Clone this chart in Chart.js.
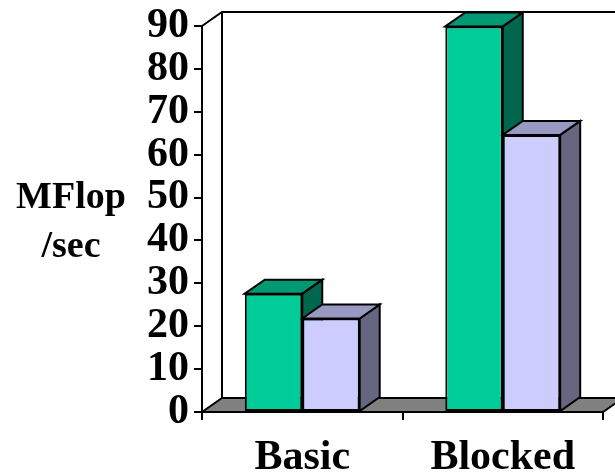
<!DOCTYPE html>
<html>
<head>
<meta charset="utf-8">
<script src="https://cdn.jsdelivr.net/npm/chart.js@4"></script>
<style>
  html, body { margin: 0; padding: 0; background: #fff; }
  #wrap { width: 615px; height: 473px; position: relative; }
</style>
</head>
<body>
<div id="wrap"><canvas id="mflop-chart"></canvas></div>
<script>
// values
const categories = ['Basic', 'Blocked']
const greenValues = [27.6, 89.9]
const lavenderValues = [21.8, 64.6]
const yTickValues = [0, 10, 20, 30, 40, 50, 60, 70, 80, 90]
const yTitleLines = ['MFlop', '/sec']

const FONT = '"Liberation Serif", "Times New Roman", serif'
const DEPTH_X = 20
const DEPTH_Y = -14

// front, top and side shades for each series
const shades = [
  { front: 'rgb(0,204,153)', top: 'rgb(0,153,115)', side: 'rgb(0,102,77)' },
  { front: 'rgb(204,204,255)', top: 'rgb(153,153,196)', side: 'rgb(102,102,128)' }
]

const poly = (ctx, pts, fill) => {
  ctx.beginPath()
  ctx.moveTo(pts[0][0], pts[0][1])
  for (let i = 1; i < pts.length; i++) ctx.lineTo(pts[i][0], pts[i][1])
  ctx.closePath()
  if (fill) {
    ctx.fillStyle = fill
    ctx.fill()
  }
  ctx.stroke()
}

// back wall, floor and the 3d faces of the bars
const box3d = {
  id: 'box3d',
  beforeDatasetsDraw(chart) {
    const { ctx, chartArea: a } = chart
    ctx.save()
    ctx.strokeStyle = '#000'
    ctx.lineWidth = 2
    ctx.lineJoin = 'miter'

    // back wall outline
    ctx.beginPath()
    ctx.moveTo(a.left, a.top)
    ctx.lineTo(a.left + DEPTH_X, a.top + DEPTH_Y)
    ctx.lineTo(chart.width + 5, a.top + DEPTH_Y)
    ctx.moveTo(a.left + DEPTH_X, a.top + DEPTH_Y)
    ctx.lineTo(a.left + DEPTH_X, a.bottom + DEPTH_Y)
    ctx.stroke()

    // floor
    poly(ctx, [
      [a.left, a.bottom],
      [a.left + DEPTH_X, a.bottom + DEPTH_Y],
      [a.right + DEPTH_X, a.bottom + DEPTH_Y],
      [a.right, a.bottom]
    ], 'rgb(128,128,128)')

    // tops and sides, in drawing order
    categories.forEach((c, j) => {
      chart.data.datasets.forEach((ds, i) => {
        const bar = chart.getDatasetMeta(i).data[j]
        const { x, y, base, width } = bar.getProps(['x', 'y', 'base', 'width'], true)
        const l = x - width / 2
        const r = x + width / 2
        poly(ctx, [
          [r, y], [r + DEPTH_X, y + DEPTH_Y],
          [r + DEPTH_X, base + DEPTH_Y], [r, base]
        ], shades[i].side)
        poly(ctx, [
          [l, y], [l + DEPTH_X, y + DEPTH_Y],
          [r + DEPTH_X, y + DEPTH_Y], [r, y]
        ], shades[i].top)
      })
    })
    ctx.restore()
  },
  afterDraw(chart) {
    // horizontal axis title, two lines
    const { ctx } = chart
    ctx.save()
    ctx.fillStyle = '#000'
    ctx.font = 'bold 38px ' + FONT
    ctx.textAlign = 'center'
    ctx.textBaseline = 'alphabetic'
    ctx.fillText(yTitleLines[0], 71, 208)
    ctx.fillText(yTitleLines[1], 71, 257)
    ctx.restore()
  }
}

const ctx = document.getElementById('mflop-chart').getContext('2d')
new Chart(ctx, {
  type: 'bar',
  data: {
    labels: categories,
    datasets: [
      {
        label: 'Series 1',
        data: greenValues,
        backgroundColor: shades[0].front,
        borderColor: '#000',
        borderWidth: 2,
        borderSkipped: false
      },
      {
        label: 'Series 2',
        data: lavenderValues,
        backgroundColor: shades[1].front,
        borderColor: '#000',
        borderWidth: 2,
        borderSkipped: false
      }
    ]
  },
  options: {
    responsive: true,
    maintainAspectRatio: false,
    animation: false,
    layout: { padding: { top: 26, right: 12, left: 0, bottom: 0 } },
    datasets: { bar: { categoryPercentage: 0.573, barPercentage: 1.0 } },
    plugins: {
      legend: { display: false },
      tooltip: { enabled: false }
    },
    scales: {
      x: {
        offset: true,
        grid: {
          offset: true,
          drawOnChartArea: false,
          tickLength: 8,
          color: '#000',
          lineWidth: 2
        },
        border: { color: '#000', width: 2 },
        ticks: {
          color: '#000',
          font: { family: FONT, size: 42, weight: 'bold', lineHeight: 1 },
          padding: 17,
          maxRotation: 0
        },
        afterFit(scale) { scale.height = 61 }
      },
      y: {
        min: 0,
        max: 90,
        afterBuildTicks(scale) {
          scale.ticks = yTickValues.map(v => ({ value: v }))
        },
        grid: {
          drawOnChartArea: false,
          tickLength: 8,
          color: '#000',
          lineWidth: 2
        },
        border: { color: '#000', width: 2 },
        ticks: {
          color: '#000',
          font: { family: FONT, size: 42, weight: 'bold', lineHeight: 1 },
          padding: 5,
          autoSkip: false
        },
        afterFit(scale) { scale.width = 202 }
      }
    }
  },
  plugins: [box3d]
})
</script>
</body>
</html>
